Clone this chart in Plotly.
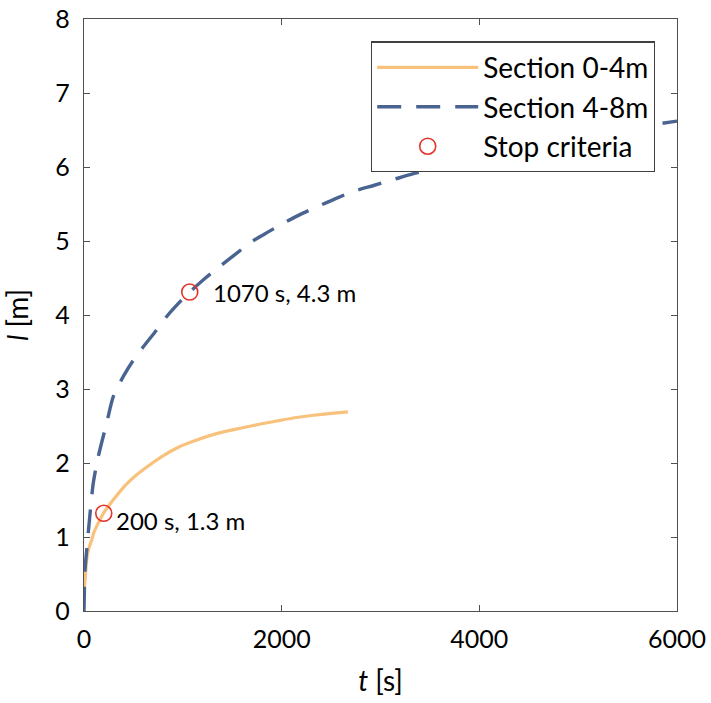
import plotly.graph_objects as go

# section 0-4m (orange, solid)
t_sec1 = [0, 10, 27, 50, 78, 100, 130, 196, 260, 331, 420, 533, 650, 803, 950, 1140, 1350,
          1580, 1800, 2000, 2150, 2320, 2500, 2670]
l_sec1 = [0.3, 0.4, 0.69, 0.85, 0.96, 1.06, 1.15, 1.32, 1.44, 1.56, 1.70, 1.84, 1.96, 2.10, 2.21,
          2.31, 2.40, 2.47, 2.53, 2.58, 2.615, 2.645, 2.67, 2.69]

# section 4-8m (blue, dashed)
t_sec2 = [0, 10, 27, 60, 94, 145, 229, 297, 398, 499, 600, 719, 837, 972, 1070, 1220, 1377,
          1540, 1697, 1860, 2018, 2190, 2355, 2540, 2726, 2930, 3131, 3333, 3600, 4000, 4500,
          5000, 5500, 6000]
l_sec2 = [0, 0.55, 0.82, 1.3, 1.73, 2.09, 2.54, 2.90, 3.17, 3.39, 3.57, 3.77, 3.98, 4.18, 4.31,
          4.49, 4.66, 4.83, 4.99, 5.12, 5.24, 5.36, 5.46, 5.57, 5.67, 5.75, 5.83, 5.91, 6.0, 6.13,
          6.28, 6.41, 6.52, 6.62]

# stop criteria points
t_stop = [200, 1070]
l_stop = [1.32, 4.31]
stop_labels = ['200 s, 1.3 m', '1070 s, 4.3 m']

x_ticks = [0, 2000, 4000, 6000]
y_ticks = [0, 1, 2, 3, 4, 5, 6, 7, 8]

FONT = 'Lato'
orange = '#F8C27C'
blue = '#4A6491'
red = '#E3342A'
axis_col = '#505050'

fig = go.Figure()

fig.add_trace(go.Scatter(x=t_sec1, y=l_sec1, mode='lines', name='Section 0-4m',
                         line=dict(color=orange, width=3.2, shape='spline', smoothing=0.7)))
fig.add_trace(go.Scatter(x=t_sec2, y=l_sec2, mode='lines', name='Section 4-8m',
                         line=dict(color=blue, width=3.4, dash='24px,15px', shape='spline', smoothing=0.7)))
fig.add_trace(go.Scatter(x=t_stop, y=l_stop, mode='markers', name='Stop criteria',
                         marker=dict(symbol='circle-open', size=16, color=red, line=dict(width=1.6))))

# labels next to stop points
fig.add_annotation(x=t_stop[0], y=l_stop[0], text=stop_labels[0], showarrow=False,
                   xanchor='left', xshift=10, yshift=-7, font=dict(family=FONT, size=24, color='black'))
fig.add_annotation(x=t_stop[1], y=l_stop[1], text=stop_labels[1], showarrow=False,
                   xanchor='left', xshift=21, yshift=0, font=dict(family=FONT, size=24, color='black'))

axis_common = dict(showline=True, linecolor=axis_col, linewidth=1.3, mirror='ticks',
                   ticks='inside', ticklen=6, tickcolor=axis_col, tickwidth=1.2,
                   showgrid=False, zeroline=False, automargin=False, ticklabeloverflow='allow',
                   tickfont=dict(family=FONT, size=25, color='black'))

fig.update_xaxes(range=[0, 6000], tickvals=x_ticks, ticklabelstandoff=6,
                 title=dict(text='<i>t</i> [s]', font=dict(family=FONT, size=28, color='black'), standoff=19),
                 **axis_common)
fig.update_yaxes(range=[0, 8], tickvals=y_ticks, ticklabelstandoff=8,
                 title=dict(text='<i>l</i> [m]', font=dict(family=FONT, size=28, color='black'), standoff=20),
                 **axis_common)

fig.update_layout(width=711, height=703,
                  margin=dict(l=84, r=34, t=19, b=92),
                  plot_bgcolor='white', paper_bgcolor='white',
                  font=dict(family=FONT, color='black'),
                  legend=dict(x=0.484, y=0.962, xanchor='left', yanchor='top',
                              bgcolor='white', bordercolor='#404040', borderwidth=1.2,
                              itemwidth=101, font=dict(family=FONT, size=28, color='black'),
                              tracegroupgap=0))

# drop the default 8px body margin so the figure sits at the page corner
fig.write_html("out.html", config={'displayModeBar': False},
               post_script="document.body.style.margin='0';")
